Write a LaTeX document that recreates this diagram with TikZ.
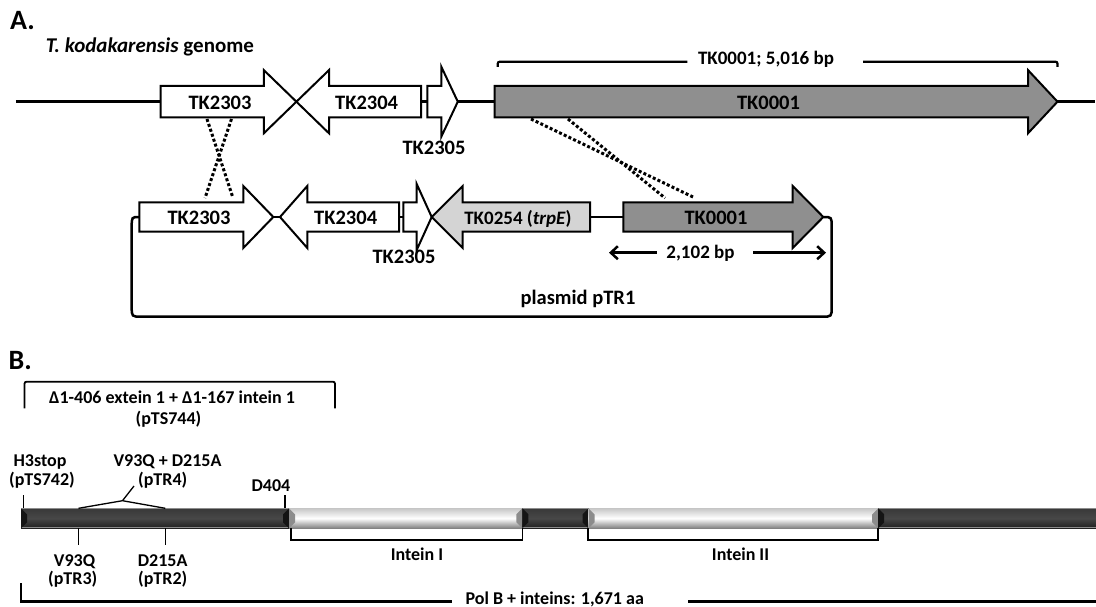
\documentclass[tikz,border=0pt]{standalone}
\usepackage{fontspec}
\setmainfont{Carlito}
\usetikzlibrary{arrows.meta}
\definecolor{gdark}{HTML}{8F8F8F}
\definecolor{glight}{HTML}{D4D4D4}
\newcommand{\geneR}[7]{% left base tip yc headhalf recthalf fill
  \filldraw[gene, fill=#7] (#1,#4-#6) -- (#2,#4-#6) -- (#2,#4-#5) -- (#3,#4) -- (#2,#4+#5) -- (#2,#4+#6) -- (#1,#4+#6) -- cycle;}
\newcommand{\geneL}[7]{% tip base right yc headhalf recthalf fill
  \filldraw[gene, fill=#7] (#3,#4-#6) -- (#2,#4-#6) -- (#2,#4-#5) -- (#1,#4) -- (#2,#4+#5) -- (#2,#4+#6) -- (#3,#4+#6) -- cycle;}
\newcommand{\segdark}[2]{%
  \shade[top color=black!78, bottom color=black!88, middle color=black!72] (#1,508.3) rectangle (#2,528.3);
  \draw[black!45, line width=1pt] (#1,508.8) -- (#2,508.8);
  \draw[black!45, line width=1pt] (#1,527.8) -- (#2,527.8);
  \fill[black!92] (#1,508.3) -- (#1+6,514.3) -- (#1+6,522.3) -- (#1,528.3) -- cycle;
  \fill[black!92] (#2,508.3) -- (#2-6,514.3) -- (#2-6,522.3) -- (#2,528.3) -- cycle;}
\newcommand{\seglight}[2]{%
  \shade[top color=black!22, bottom color=black!50, middle color=white] (#1,508.3) rectangle (#2,528.3);
  \fill[black!45] (#1,508.3) -- (#1+6,514.3) -- (#1+6,522.3) -- (#1,528.3) -- cycle;
  \fill[black!45] (#2,508.3) -- (#2-6,514.3) -- (#2-6,522.3) -- (#2,528.3) -- cycle;}
\begin{document}
\begin{tikzpicture}[x=1pt,y=-1pt,
  gene/.style={draw=black, line width=2pt, line join=miter},
  lbl/.style={font=\fontsize{20.5}{20.5}\selectfont\bfseries, inner sep=0pt, anchor=base},
  lbls/.style={font=\fontsize{19}{19}\selectfont\bfseries, inner sep=0pt, anchor=base},
  lblb/.style={font=\fontsize{18}{18}\selectfont\bfseries, inner sep=0pt, anchor=base},
  big/.style={font=\fontsize{28}{28}\selectfont\bfseries, inner sep=0pt, anchor=base west},
  dna/.style={line width=2.5pt},
  dots/.style={line width=3pt, dash pattern=on 3pt off 2.2pt},
  tick/.style={line width=1.3pt},
  brk/.style={line width=2.2pt, rounded corners=2pt},
]
\useasboundingbox (0,0) rectangle (1096,607);

% ---------------- Panel A ----------------
\node[big] (labA) at (10,30) {A.};
\node[font=\fontsize{21}{21}\selectfont\bfseries, inner sep=0pt, anchor=base west] (genome) at (45.6,53) {\textit{T. kodakarensis} genome};

% genome line
\coordinate (gl) at (15.8,101.7);
\coordinate (gr) at (1095,101.7);
\draw[dna] (gl) -- (gr);

\geneR{160.7}{263.8}{296.4}{101.7}{31.6}{15.7}{white}
\geneL{296.4}{329}{421}{101.7}{31.6}{15.7}{white}
\geneR{427.3}{441.3}{457.8}{101.7}{35}{15.7}{white}
\geneR{494.6}{1028}{1057.5}{101.7}{31.6}{15.7}{gdark}

\node[lbl] (a2303) at (220,109.3) {TK2303};
\node[lbl] (a2304) at (366.6,109.3) {TK2304};
\node[lbl] (a2305) at (434,155) {TK2305};
\node[lbl] (a0001) at (768.5,109.3) {TK0001};

% bracket TK0001 5,016 bp
\node[lbls] (len1) at (766,64.3) {TK0001; 5,016 bp};
\coordinate (b1l) at (497.7,67);
\coordinate (b1r) at (1057.5,67);
\draw[brk] (b1l) -- (497.7,61.7) -- (687.4,61.7);
\draw[brk] (863,61.7) -- (1057.5,61.7) -- (b1r);

% plasmid row
\coordinate (pl) at (273.3,217);
\coordinate (pr) at (623.3,217);
\draw[dna] (pl) -- (pr);
\geneR{139.3}{243.3}{273.3}{217}{31}{14.7}{white}
\geneL{280}{307.3}{399}{217}{31}{14.7}{white}
\geneR{403.3}{416.7}{431.7}{217}{33}{14.7}{white}
\geneL{431.7}{462.7}{590}{217}{31}{14.7}{glight}
\geneR{623.3}{792.7}{823.3}{217}{31}{14.7}{gdark}

\node[lbl] (b2303) at (199,224.5) {TK2303};
\node[lbl] (b2304) at (345.7,224.5) {TK2304};
\node[lbl] (b2305) at (404,263.3) {TK2305};
\node[lbls] (b0254) at (518,224.5) {TK0254 (\textit{trpE})};
\node[lbl] (b0001) at (716,224.5) {TK0001};

% plasmid outline
\coordinate (ps) at (139.3,217);
\coordinate (pe) at (823.3,217);
\draw[line width=2.5pt] (ps) .. controls (131.7,217) .. (131.7,227) -- (131.7,306.7)
  .. controls (131.7,316.7) .. (141.7,316.7) -- (821.7,316.7)
  .. controls (831.7,316.7) .. (831.7,306.7) -- (831.7,227)
  .. controls (831.7,217) .. (pe);
\node[lbl] (plas) at (578,304) {plasmid pTR1};

% 2,102 bp
\coordinate (al) at (609,252.7);
\coordinate (ar) at (826,252.7);
\draw[line width=2.5pt, {Straight Barb[length=7pt,width=13pt]}-{Straight Barb[length=7pt,width=13pt]}] (al) -- (ar);
\node[fill=white, minimum width=96pt, minimum height=16pt, inner sep=0pt] (len2box) at (704.8,252.7) {};
\node[lbls] (len2) at (700.5,258.5) {2,102 bp};

% recombination (dotted)
\coordinate (x1a) at (207,119);
\coordinate (x1b) at (233,198);
\coordinate (x2a) at (231.5,119);
\coordinate (x2b) at (205,198);
\draw[dots] (x1a) -- (x1b);
\draw[dots] (x2a) -- (x2b);
\coordinate (y1a) at (531,119);
\coordinate (y1b) at (693,197);
\coordinate (y2a) at (568,119);
\coordinate (y2b) at (665,198);
\draw[dots] (y1a) -- (y1b);
\draw[dots] (y2a) -- (y2b);

% ---------------- Panel B ----------------
\node[big] (labB) at (8.5,369) {B.};
\draw[line width=1.8pt, rounded corners=2pt] (24.5,408.3) -- (24.5,381.7) -- (335,381.7) -- (335,408.3);
\node[lblb] (del1) at (172,403) {Δ1-406 extein 1 + Δ1-167 intein 1};
\node[lblb] (del2) at (168.5,424.5) {(pTS744)};

% bar
\segdark{21}{289}
\seglight{289}{522.4}
\segdark{522.4}{588.5}
\seglight{588.5}{878.2}
\segdark{878.2}{1102}

% labels above
\node[lblb] (h3) at (40,466) {H3stop};
\node[lblb] (h3p) at (42,485) {(pTS742)};
\node[lblb] (vd) at (167.5,466) {V93Q + D215A};
\node[lblb] (vdp) at (162.7,485) {(pTR4)};
\node[lblb] (d404) at (271,491.7) {D404};
\draw[tick] (23.7,495) -- (23.7,508.3);
\draw[tick] (285,495) -- (285,508.3);
\draw[tick] (78.5,508.3) -- (122.5,500.7) -- (165.3,508.3);
\draw[tick] (122.5,500.7) -- (134,486);

% labels below
\draw[tick] (78.5,528.3) -- (78.5,545);
\draw[tick] (165.3,528.3) -- (165.3,545);
\node[lblb] (v93) at (74.6,566) {V93Q};
\node[lblb] (v93p) at (72.7,584.5) {(pTR3)};
\node[lblb] (d215) at (162.7,566) {D215A};
\node[lblb] (d215p) at (162.7,584.5) {(pTR2)};

\draw[line width=1.5pt] (290.8,528.3) -- (290.8,540) -- (522.4,540) -- (522.4,528.3);
\node[lblb] (i1) at (417,560) {Intein I};
\draw[line width=1.5pt] (588.2,528.3) -- (588.2,540) -- (878.2,540) -- (878.2,528.3);
\node[lblb] (i2) at (740.5,560) {Intein II};

% Pol B bracket
\draw[line width=2.5pt] (21,583.3) -- (21,601.7) -- (451.6,601.7);
\draw[line width=2.5pt] (688,601.7) -- (1100,601.7);
\node[lblb] (polb) at (554.7,604.5) {Pol B + inteins: 1,671 aa};
\end{tikzpicture}
\end{document}
